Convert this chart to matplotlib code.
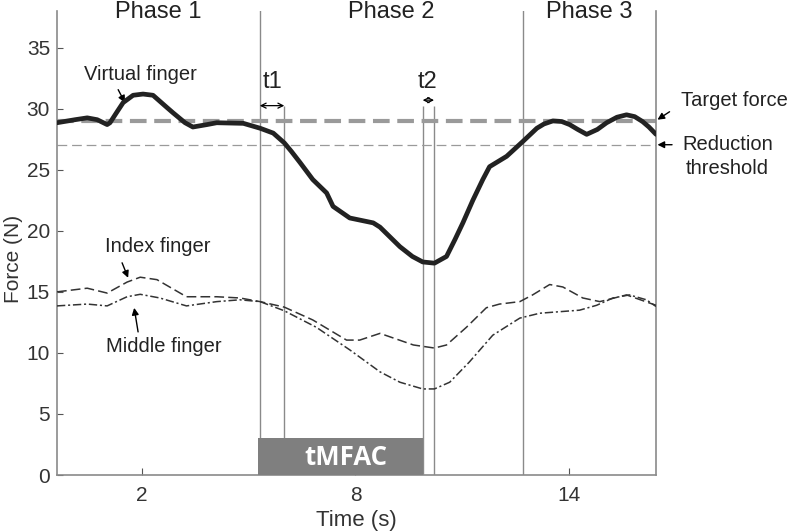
import matplotlib
matplotlib.use('Agg')
import matplotlib.pyplot as plt
import numpy as np

plt.rcParams['font.family'] = ['Liberation Sans', 'DejaVu Sans']
plt.rcParams['lines.scale_dashes'] = False

# data
t_vf = [-0.39, 0.12, 0.46, 0.74, 1.02, 1.10, 1.30, 1.47, 1.75, 2.03, 2.31,
        2.7, 2.87, 3.21, 3.43, 3.83, 4.1, 4.85, 5.32, 5.69, 6.0, 6.2, 6.44,
        6.8, 7.19, 7.37, 7.84, 8.5, 8.69, 9.25, 9.6, 9.89, 10.22, 10.56, 10.8,
        11.02, 11.3, 11.58, 11.77, 12.25, 12.7, 13.1, 13.3, 13.55, 13.8,
        14.02, 14.25, 14.5, 14.8, 15.06, 15.35, 15.62, 15.85, 16.07, 16.25,
        16.45]
f_vf = [28.85, 29.1, 29.25, 29.1, 28.7, 28.85, 29.75, 30.5, 31.1, 31.2, 31.1,
        30.1, 29.67, 28.85, 28.5, 28.7, 28.85, 28.8, 28.4, 28.0, 27.2, 26.5,
        25.6, 24.2, 23.1, 22.0, 21.05, 20.65, 20.3, 18.7, 17.9, 17.45, 17.35,
        17.9, 19.3, 20.65, 22.5, 24.2, 25.25, 26.1, 27.3, 28.4, 28.75, 29.0,
        28.95, 28.7, 28.3, 27.9, 28.3, 28.85, 29.3, 29.5, 29.35, 28.95, 28.5,
        27.9]

t_idx = [-0.39, 0.46, 1.02, 1.58, 1.95, 2.42, 3.25, 4.1, 4.75, 5.32, 6.0, 6.8,
         7.75, 8.12, 8.69, 9.63, 10.22, 10.56, 11.12, 11.68, 12.05, 12.62,
         12.98, 13.46, 13.83, 14.39, 14.87, 15.62, 16.45]
f_idx = [15.0, 15.3, 14.9, 15.8, 16.2, 16.0, 14.6, 14.6, 14.5, 14.2, 13.75,
         12.7, 11.05, 11.05, 11.6, 10.65, 10.4, 10.65, 12.1, 13.7, 14.0, 14.2,
         14.75, 15.6, 15.4, 14.5, 14.2, 14.75, 13.9]

t_mid = [-0.39, 0.46, 1.02, 1.58, 1.95, 2.5, 3.25, 4.1, 4.75, 5.32, 6.0, 6.9,
         7.84, 8.69, 9.25, 9.89, 10.22, 10.65, 11.2, 11.86, 12.62, 13.18, 14.3,
         14.78, 15.24, 15.7, 16.18, 16.45]
f_mid = [13.85, 14.0, 13.85, 14.6, 14.8, 14.5, 13.85, 14.2, 14.35, 14.2, 13.45,
         12.1, 10.25, 8.45, 7.6, 7.05, 7.05, 7.6, 9.25, 11.45, 12.85, 13.25,
         13.5, 13.9, 14.5, 14.75, 14.35, 13.8]

target_force = 29.0
reduction_threshold = 27.05
phase_bounds = [5.31, 12.71]
t1 = (5.31, 6.0)
t2 = (9.89, 10.21)
tmfac = (5.27, 9.89)
x_ticks = [2, 8, 14]
y_ticks = [0, 5, 10, 15, 20, 25, 30, 35]
phase_names = ['Phase 1', 'Phase 2', 'Phase 3']
phase_x = [2.45, 9.02, 14.58]

fig = plt.figure(figsize=(7.87, 5.32), dpi=100)
ax = fig.add_axes([0.0724, 0.1071, 0.7612, 0.8722])
xmin, xmax = -0.39, 16.45
ymax = 38.0
ax.set_xlim(xmin, xmax)
ax.set_ylim(0, ymax)

gray = '#8a8a8a'
for s in ['left', 'bottom', 'right']:
    ax.spines[s].set_color(gray)
    ax.spines[s].set_linewidth(1.2)
ax.spines['top'].set_visible(False)

ax.set_xticks(x_ticks)
ax.set_yticks(y_ticks)
ax.tick_params(axis='x', direction='in', length=5, color='#555', labelsize=15,
               labelcolor='#333', pad=8)
ax.tick_params(axis='y', direction='in', length=4, color='#555', labelsize=15,
               labelcolor='#333', pad=5)
ax.set_xlabel('Time (s)', fontsize=16, color='#333', labelpad=2)
ax.set_ylabel('Force (N)', fontsize=15, color='#333')
ax.yaxis.set_label_coords(-0.056, 0.466)
ax.xaxis.set_label_coords(0.5, -0.075)

# phase boundaries and t1/t2 markers
for xb in phase_bounds:
    ax.axvline(xb, color=gray, lw=1.0)
ax.vlines([t1[1], t2[0], t2[1]], 0, 30.25, color=gray, lw=1.0)

# tMFAC bar
ax.bar((tmfac[0] + tmfac[1]) / 2, 3.0, width=tmfac[1] - tmfac[0],
       color='#7f7f7f', zorder=3)
ax.text(7.72, 1.45, 'tMFAC', color='white', fontsize=18.5, fontweight='bold',
        family=['Open Sans', 'DejaVu Sans'], ha='center', va='center', zorder=4)

# reference lines
ax.plot([xmin, xmax], [target_force] * 2, color='#9a9a9a', lw=3.0,
        dashes=(12, 5.5), zorder=2)
ax.plot([xmin, xmax], [reduction_threshold] * 2, color='#9a9a9a', lw=0.9,
        dashes=(7, 3.5), zorder=2)

# force curves
ax.plot(t_vf, f_vf, color='#222', lw=3.4, solid_capstyle='round',
        solid_joinstyle='round', zorder=5)
ax.plot(t_idx, f_idx, color='#333', lw=1.1, dashes=(7, 3), zorder=5)
ax.plot(t_mid, f_mid, color='#333', lw=1.1, dashes=(6, 2, 1.5, 2), zorder=5)

# text labels
for name, xp in zip(phase_names, phase_x):
    ax.text(xp, 37.9, name, fontsize=17, ha='center', va='center',
            color='#222', clip_on=False)

arrow = dict(arrowstyle='-|>', color='black', lw=1.0, mutation_scale=10,
             shrinkA=0, shrinkB=0)
ax.text(1.97, 32.8, 'Virtual finger', fontsize=14.5, ha='center', va='center',
        color='#222')
ax.annotate('', xy=(1.52, 30.5), xytext=(1.33, 31.56), arrowprops=arrow)

ax.text(2.45, 18.7, 'Index finger', fontsize=14.5, ha='center', va='center',
        color='#222')
ax.annotate('', xy=(1.61, 16.15), xytext=(1.44, 17.38), arrowprops=arrow)

ax.text(2.62, 10.5, 'Middle finger', fontsize=14.5, ha='center', va='center',
        color='#222')
ax.annotate('', xy=(1.78, 13.69), xytext=(1.89, 11.72), arrowprops=arrow)

ax.text(17.15, 30.7, 'Target force', fontsize=14.5, ha='left', va='center',
        color='#222', clip_on=False)
ax.annotate('', xy=(16.49, 29.1), xytext=(16.83, 29.75), arrowprops=arrow,
            annotation_clip=False)

ax.text(18.46, 26.07, 'Reduction\nthreshold', fontsize=14.5, ha='center',
        va='center', color='#222', linespacing=1.3, clip_on=False)
ax.annotate('', xy=(16.49, 27.05), xytext=(16.9, 27.05), arrowprops=arrow,
            annotation_clip=False)

darrow = dict(arrowstyle='<->', color='black', lw=0.9, mutation_scale=9,
              shrinkA=0, shrinkB=0)
ax.text(5.66, 32.2, 't1', fontsize=17, ha='center', va='center', color='#222')
ax.annotate('', xy=(t1[0], 30.25), xytext=(t1[1], 30.25), arrowprops=darrow)
ax.text(10.03, 32.2, 't2', fontsize=17, ha='center', va='center', color='#222')
ax.annotate('', xy=(t2[0], 30.7), xytext=(t2[1], 30.7), arrowprops=darrow)

fig.savefig('out.png', dpi=100)
